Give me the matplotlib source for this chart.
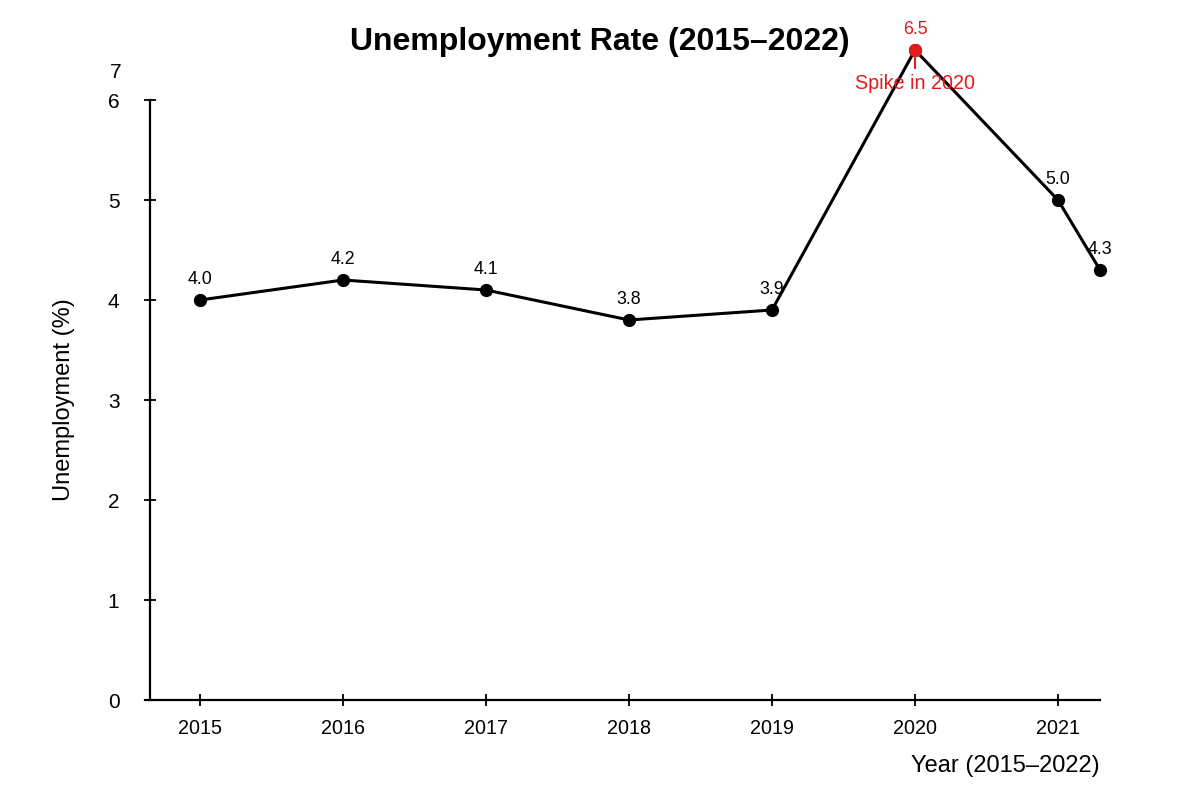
import matplotlib.pyplot as plt
import numpy as np

plt.rcParams['font.family'] = ['Liberation Sans', 'DejaVu Sans']

# data
years = [2015, 2016, 2017, 2018, 2019, 2020, 2021, 2022]
rate = [4.0, 4.2, 4.1, 3.8, 3.9, 6.5, 5.0, 4.3]
xticks = [2015, 2016, 2017, 2018, 2019, 2020, 2021]
yticks = [0, 1, 2, 3, 4, 5, 6]
spike_year = 2020

x_lo, x_hi = 2014.65, 2021.294

fig = plt.figure(figsize=(12, 8), dpi=100)
ax = fig.add_axes([0.125, 0.125, 0.7917, 0.75])

# the last point sits on the right edge of the axis
xs = np.minimum(np.array(years, float), x_hi)
ax.plot(xs, rate, color='black', lw=2.2, marker='o', ms=8.5, clip_on=False, zorder=3)

i = years.index(spike_year)
ax.plot(xs[i], rate[i], 'o', color='#e41a1c', ms=8.5, clip_on=False, zorder=4)

for k, (x, v) in enumerate(zip(xs, rate)):
    col = '#e41a1c' if k == i else 'black'
    ax.annotate(f'{v:.1f}', (x, v), xytext=(0, 15), textcoords='offset points',
                ha='center', va='center', fontsize=12.8, color=col,
                annotation_clip=False)

# spike note
ax.annotate('Spike in 2020', (xs[i], rate[i]), xytext=(0, -24), textcoords='offset points',
            ha='center', va='center', fontsize=14.2, color='#e41a1c',
            annotation_clip=False)
ax.annotate('', (xs[i], rate[i] - 0.03), xytext=(xs[i], rate[i] - 0.21),
            arrowprops=dict(arrowstyle='-', color='#e41a1c', lw=1.5),
            annotation_clip=False)

ax.set_xlim(x_lo, x_hi)
ax.set_ylim(0, 6)
ax.set_xticks(xticks)
ax.set_xticklabels([str(t) for t in xticks])
ax.set_yticks(yticks)

for s in ['top', 'right']:
    ax.spines[s].set_visible(False)
for s in ['left', 'bottom']:
    ax.spines[s].set_linewidth(1.6)
ax.spines['bottom'].set_bounds(x_lo - 0.035, x_hi)

ax.tick_params(axis='x', direction='inout', length=8, width=1.3, labelsize=14.2, pad=10)
ax.tick_params(axis='y', direction='inout', length=8, width=1.3, labelsize=15, pad=18)

# stray "7" label above the top tick
ax.text(-0.0305, 6.27, '7', transform=ax.get_yaxis_transform(), ha='right', va='center',
        fontsize=15)

ax.set_ylabel('Unemployment (%)', fontsize=17)
ax.yaxis.set_label_coords(-0.079, 0.5)
ax.set_xlabel('Year (2015–2022)', fontsize=17, loc='right', labelpad=12)

fig.suptitle('Unemployment Rate (2015–2022)', fontsize=23, fontweight='bold', y=0.966)

fig.savefig('out.png', dpi=100)
